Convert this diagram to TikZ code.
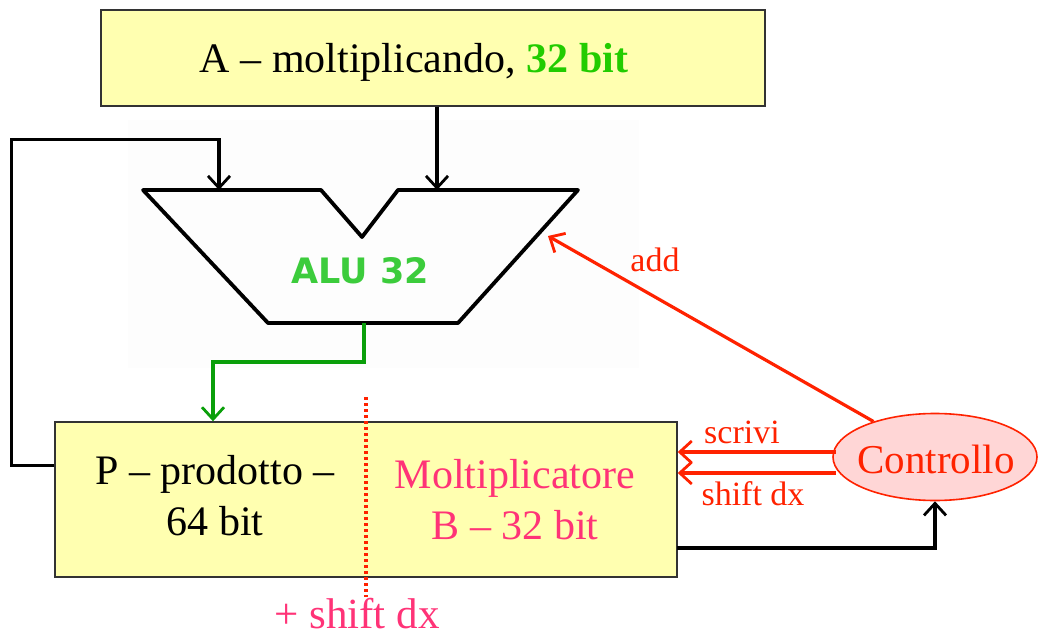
\documentclass[tikz,border=0pt]{standalone}
\usepackage{fontspec}
\setmainfont{Liberation Serif}
\newfontfamily\alufont{DejaVu Sans}
\usetikzlibrary{arrows.meta,shapes.geometric,calc}
\definecolor{boxyellow}{HTML}{FFFFB0}
\definecolor{ctlred}{HTML}{FF2200}
\definecolor{ctlfill}{HTML}{FFD6D6}
\definecolor{pinktxt}{HTML}{FF3377}
\definecolor{bitgreen}{HTML}{22CC00}
\definecolor{alugreen}{HTML}{3CCC3C}
\definecolor{wiregreen}{HTML}{0A9F0A}
\definecolor{alubg}{HTML}{FDFDFD}
\begin{document}
\begin{tikzpicture}[x=1pt,y=-1pt,
  reg/.style={draw=black!80, line width=1.4pt, fill=boxyellow, inner sep=0pt},
  bigtxt/.style={font=\fontsize{42}{51}\selectfont, align=center, inner sep=0pt},
  smalltxt/.style={font=\fontsize{34}{40}\selectfont, text=ctlred, inner sep=0pt, anchor=base},
  tip/.style={-{Straight Barb[length=12pt,width=22pt,line width=2.8pt]}},
  wire/.style={line width=3.2pt, tip},
  redwire/.style={line width=3.2pt, draw=ctlred, tip}]
\useasboundingbox (0,0) rectangle (1039,631);

% faint backdrop behind the ALU symbol
\fill[alubg] (128,120) rectangle (639,368);

% registers
\node[reg, minimum width=664pt, minimum height=96pt] (A) at (433,58) {};
\node[bigtxt] (Atxt) at (414,62) {A -- moltiplicando, \textcolor{bitgreen}{\textbf{32 bit}}};

\node[reg, minimum width=622pt, minimum height=155pt] (P) at (366,499.5) {};
\node[bigtxt] (Ptxt) at (215,496) {P -- prodotto --\\64 bit};
\node[bigtxt, text=pinktxt] (Btxt) at (515,500) {Moltiplicatore\\B -- 32 bit};

% ALU outline
\coordinate (in1) at (219,190);
\coordinate (in2) at (437,190);
\coordinate (aluout) at (364,323);
\coordinate (addin) at (548,236);
\draw[line width=3.8pt, line join=round]
  (143,190) -- (321,190) -- (362,237) -- (398,190) -- (578,190)
  -- (458,323) -- (268,323) -- cycle;
\node[font=\alufont\bfseries\fontsize{35}{40}\selectfont, text=alugreen] (alutxt) at (360,271) {ALU 32};

% control unit
\node[ellipse, draw=ctlred, line width=1.6pt, fill=ctlfill, minimum width=204pt, minimum height=87pt, inner sep=0pt] (C) at (935,457) {};
\node[bigtxt, text=ctlred, font=\fontsize{41}{48}\selectfont] (Ctxt) at (936,459) {Controllo};

% split marker between the two halves of P
\coordinate (splitT) at (366,397);
\coordinate (splitB) at (366,597);
\draw[ctlred, line width=3.4pt, dash pattern=on 3pt off 3pt] (splitT) -- (splitB);
\node[bigtxt, text=pinktxt, font=\fontsize{43}{48}\selectfont, anchor=base] (shtxt) at (357,628) {+ shift dx};

% data paths
\coordinate (fbout) at ($(P.north west)+(0,44)$);
\draw[wire] (fbout) -- ++(-43,0) -- ++(0,-326) -| (in1);
\draw[wire] (A.south -| in2) -- (in2);
\draw[wire, draw=wiregreen]
  (aluout) -- ++(0,39) -| (P.north -| 213,0);

% control signals
\coordinate (scr) at (836,452);
\coordinate (shf) at (836,473);
\draw[redwire] (scr) -- (P.east |- scr);
\draw[redwire] (shf) -- (P.east |- shf);
\node[smalltxt] (scrtxt) at (742,443) {scrivi};
\node[smalltxt] (shftxt) at (753,505) {shift dx};
\draw[redwire] (C.150) -- (addin);
\node[smalltxt] (addtxt) at (655,272) {add};

\coordinate (pout) at (677,548);
\draw[wire] (pout) -| (C.south);
\end{tikzpicture}
\end{document}
